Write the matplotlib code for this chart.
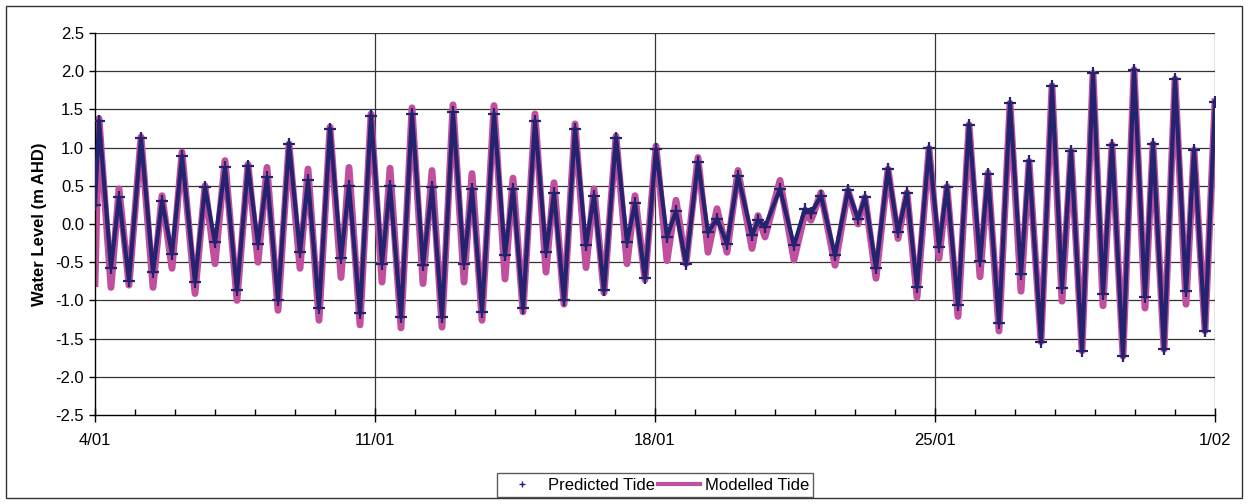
import matplotlib
matplotlib.use("Agg")
import matplotlib.pyplot as plt
from matplotlib.lines import Line2D
from matplotlib.patches import Rectangle
import numpy as np

plt.rcParams['font.family'] = ['Liberation Sans', 'DejaVu Sans']

# days after 4/01 at each high / low water
days = [0.00, 0.10, 0.40, 0.60, 0.85, 1.15, 1.45, 1.675, 1.925, 2.175,
        2.50, 2.75, 3.00, 3.25, 3.55, 3.825, 4.075, 4.30, 4.575, 4.85,
        5.125, 5.325, 5.60, 5.875, 6.15, 6.35, 6.625, 6.90, 7.175, 7.375,
        7.65, 7.925, 8.20, 8.425, 8.675, 8.95, 9.225, 9.425, 9.675, 9.975,
        10.25, 10.45, 10.70, 11.00, 11.275, 11.475, 11.725, 12.00, 12.275, 12.475,
        12.725, 13.025, 13.30, 13.50, 13.75, 14.025, 14.30, 14.525, 14.775, 15.075,
        15.325, 15.55, 15.80, 16.075, 16.425, 16.575, 16.75, 17.125, 17.475, 17.75,
        17.90, 18.15, 18.50, 18.825, 19.075, 19.25, 19.525, 19.825, 20.075, 20.30,
        20.55, 20.85, 21.10, 21.30, 21.575, 21.85, 22.125, 22.325, 22.60, 22.875,
        23.15, 23.35, 23.65, 23.925, 24.175, 24.40, 24.675, 24.95, 25.20, 25.425,
        25.70, 25.975, 26.25, 26.45, 26.725, 27.00, 27.275, 27.475, 27.75, 28.00]

predicted = [0.25, 1.35, -0.57, 0.35, -0.74, 1.12, -0.63, 0.30, -0.39, 0.89,
             -0.76, 0.48, -0.24, 0.74, -0.87, 0.76, -0.26, 0.61, -1.00, 1.05,
             -0.37, 0.57, -1.10, 1.25, -0.45, 0.50, -1.17, 1.42, -0.52, 0.50,
             -1.22, 1.44, -0.54, 0.48, -1.22, 1.46, -0.52, 0.46, -1.15, 1.44,
             -0.41, 0.46, -1.10, 1.35, -0.37, 0.40, -1.00, 1.25, -0.28, 0.37,
             -0.87, 1.13, -0.24, 0.27, -0.71, 0.98, -0.17, 0.17, -0.52, 0.81,
             -0.11, 0.07, -0.26, 0.63, -0.15, 0.05, -0.04, 0.46, -0.28, 0.20,
             0.14, 0.37, -0.41, 0.44, 0.07, 0.35, -0.58, 0.72, -0.11, 0.41,
             -0.83, 0.99, -0.30, 0.49, -1.06, 1.30, -0.49, 0.65, -1.30, 1.58,
             -0.66, 0.82, -1.54, 1.81, -0.84, 0.96, -1.66, 1.97, -0.91, 1.04,
             -1.73, 2.02, -0.95, 1.05, -1.64, 1.90, -0.88, 0.97, -1.40, 1.60]

modelled = [-0.78, 1.38, -0.83, 0.46, -0.80, 1.14, -0.83, 0.37, -0.58, 0.94,
            -0.91, 0.50, -0.52, 0.83, -1.00, 0.78, -0.50, 0.74, -1.13, 1.05,
            -0.58, 0.72, -1.26, 1.27, -0.70, 0.74, -1.32, 1.44, -0.76, 0.73,
            -1.36, 1.52, -0.78, 0.70, -1.35, 1.56, -0.76, 0.66, -1.26, 1.55,
            -0.72, 0.60, -1.15, 1.44, -0.63, 0.54, -1.05, 1.31, -0.57, 0.46,
            -0.90, 1.15, -0.52, 0.37, -0.73, 1.02, -0.48, 0.31, -0.52, 0.87,
            -0.37, 0.20, -0.37, 0.70, -0.32, 0.11, -0.17, 0.57, -0.47, 0.15,
            0.05, 0.41, -0.54, 0.44, 0.00, 0.35, -0.71, 0.72, -0.19, 0.41,
            -0.96, 0.99, -0.45, 0.49, -1.21, 1.30, -0.69, 0.67, -1.40, 1.58,
            -0.88, 0.82, -1.54, 1.81, -1.01, 0.96, -1.66, 1.97, -1.07, 1.04,
            -1.73, 2.02, -1.10, 1.05, -1.64, 1.90, -1.05, 0.97, -1.40, 1.60]

tick_days = [0, 7, 14, 21, 28]
tick_labels = ["4/01", "11/01", "18/01", "25/01", "1/02"]

navy = '#232370'
pink = '#c0509e'
fs = 12

fig = plt.figure(figsize=(12.48, 5.04), dpi=100)
ax = fig.add_axes([95/1248, 1-415/504, 1120/1248, 382/504])

ax.plot(days, modelled, color=pink, lw=5, solid_joinstyle='round', zorder=2)
ax.plot(days, predicted, color=navy, lw=3, solid_joinstyle='round', zorder=3)
ax.plot(days, predicted, '+', color=navy, ms=8, mew=1.6, zorder=4)

ax.set_xlim(0, 28)
ax.set_ylim(-2.5, 2.5)
yt = np.arange(-2.5, 2.51, 0.5)
ax.set_yticks(yt)
ax.set_yticklabels([f"{v:.1f}" for v in yt], fontsize=fs)
ax.set_xticks(tick_days)
ax.set_xticklabels(tick_labels, fontsize=fs)
ax.set_xticks(np.arange(0, 29, 1), minor=True)
ax.tick_params(axis='x', which='major', direction='inout', length=10, width=1, pad=8)
ax.tick_params(axis='x', which='minor', direction='in', length=4, width=1)
ax.tick_params(axis='y', direction='out', length=4, width=1, pad=4)

for v in np.arange(-2.0, 2.51, 0.5):
    ax.axhline(v, color='#333333', lw=0.9, zorder=1)
for d in tick_days[1:]:
    ax.axvline(d, color='#333333', lw=0.9, zorder=1)

for s in ['top', 'right']:
    ax.spines[s].set_visible(False)
ax.spines['left'].set_linewidth(1)
ax.spines['bottom'].set_linewidth(1)

ax.set_ylabel("Water Level (m AHD)", fontsize=fs, fontweight='bold', labelpad=6)

handles = [Line2D([], [], color=navy, marker='+', ls='none', ms=5, mew=1),
           Line2D([], [], color=pink, lw=3)]
leg = fig.legend(handles, ["Predicted Tide", "Modelled Tide"], ncol=2,
                 loc='center', bbox_to_anchor=(655/1248, 1-485/504),
                 fontsize=fs, frameon=True, fancybox=False, edgecolor='#333333',
                 handlelength=2.5, handletextpad=0.3, columnspacing=0.2,
                 borderpad=0.25)
leg.get_frame().set_linewidth(1)

fig.patches.append(Rectangle((6/1248, 6/504), 1236/1248, 492/504, transform=fig.transFigure,
                             fill=False, edgecolor='#333333', lw=1))

fig.savefig("out.png", dpi=100)
